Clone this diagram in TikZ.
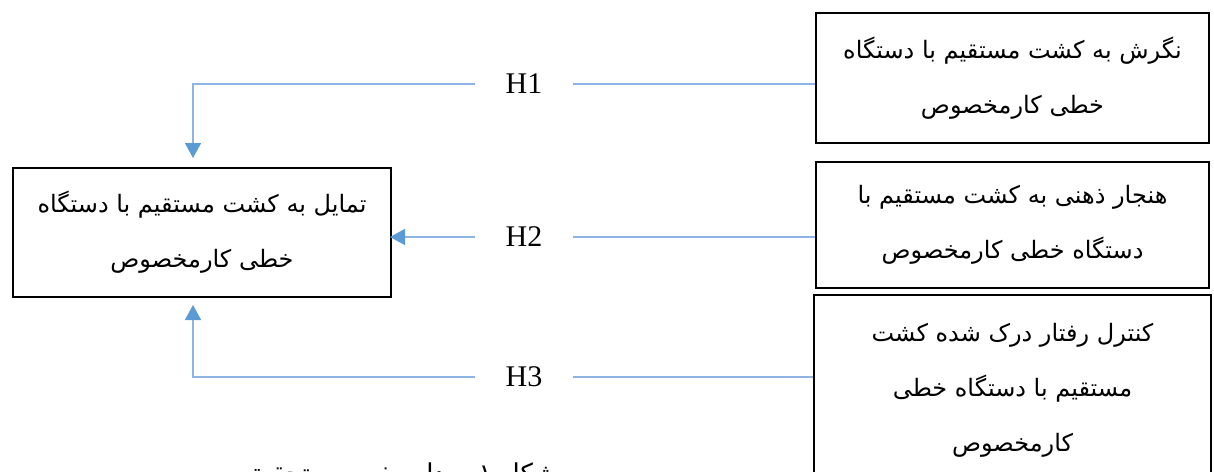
\documentclass[tikz,border=0pt]{standalone}
\usepackage{fontspec}
\setmainfont{Liberation Serif}
\newfontfamily\fafont[Script=Arabic]{DejaVu Sans}
\TeXXeTstate=1
\usetikzlibrary{arrows.meta}
\definecolor{linkblue}{HTML}{8DB4E2}
\definecolor{tipblue}{HTML}{5B9BD5}
\tikzset{
  fabox/.style={draw=black, line width=1pt, align=center, inner sep=0pt,
    font=\fafont\fontsize{12}{27.5}\selectfont},
  hlabel/.style={inner sep=0pt, minimum width=49pt, minimum height=14pt,
    font=\fontsize{15}{18}\selectfont},
  link/.style={draw=linkblue, line width=0.8pt},
  arr/.style={link, -{Triangle[width=8pt,length=7.5pt,fill=tipblue,color=tipblue]}},
}
\begin{document}
\begin{tikzpicture}[x=0.5pt,y=-0.5pt]
\useasboundingbox (0,0) rectangle (1214,471);
\node[fabox, minimum width=196.5pt, minimum height=65pt] (A) at (1012.5,78)
  {\beginR نگرش به کشت مستقیم با دستگاه\endR\\\beginR خطی کارمخصوص\endR};
\node[fabox, minimum width=196.5pt, minimum height=63pt] (B) at (1012.5,225)
  {\beginR هنجار ذهنی به کشت مستقیم با\endR\\\beginR دستگاه خطی کارمخصوص\endR};
\node[fabox, minimum width=198.5pt, minimum height=95pt] (C) at (1012.5,390)
  {\beginR کنترل رفتار درک شده کشت\endR\\\beginR مستقیم با دستگاه خطی\endR\\\beginR کارمخصوص\endR};
\node[fabox, minimum width=189pt, minimum height=64.5pt] (D) at (202,232.5)
  {\beginR تمایل به کشت مستقیم با دستگاه\endR\\\beginR خطی کارمخصوص\endR};
\node[hlabel] (H1) at (524,84) {H1};
\node[hlabel] (H2) at (524,237) {H2};
\node[hlabel] (H3) at (524,377) {H3};
\coordinate (D1) at (193,158);
\coordinate (D3) at (193,305);
\draw[link] (A.west |- H1) -- (H1.east);
\draw[arr] (H1.west) -| (D1);
\draw[link] (B.west |- H2) -- (H2.east);
\draw[arr] (H2.west) -- ([xshift=-1pt]D.east |- H2);
\draw[link] (C.west |- H3) -- (H3.east);
\draw[arr] (H3.west) -| (D3);
\node[font=\fafont\fontsize{13}{16}\selectfont, anchor=base] (cap) at (400,482)
  {\beginR شکل ۱- مدل مفهومی تحقیق\endR};
\end{tikzpicture}
\end{document}
